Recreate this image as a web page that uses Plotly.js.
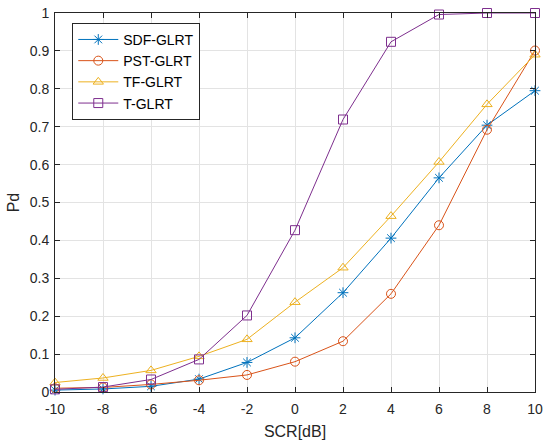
<!DOCTYPE html>
<html><head><meta charset="utf-8">
<script src="https://cdn.plot.ly/plotly-3.0.1.min.js"></script>
<style>html,body{margin:0;padding:0;background:#fff}#c{width:550px;height:444px}</style>
</head><body><div id="c"></div>
<script>
const scr = [-10,-8,-6,-4,-2,0,2,4,6,8,10];
const sdf = [0.005,0.008,0.015,0.034,0.078,0.143,0.262,0.406,0.565,0.704,0.795];
const pst = [0.010,0.012,0.020,0.031,0.045,0.080,0.134,0.259,0.440,0.692,0.901];
const tf  = [0.025,0.037,0.057,0.094,0.139,0.237,0.328,0.464,0.607,0.759,0.890];
const tg  = [0.007,0.013,0.033,0.086,0.202,0.427,0.719,0.924,0.996,1.0,1.0];
const names = ['SDF-GLRT','PST-GLRT','TF-GLRT','T-GLRT'];
const colors = ['#0072BD','#D95319','#EDB120','#7E2F8E'];
const symbols = ['asterisk-open','circle-open','triangle-up-open','square-open'];
const series = [sdf,pst,tf,tg];
const FONT = 'Liberation Sans, Arial, sans-serif';
const traces = series.map((y,i)=>({
  x: scr, y: y, name: names[i], type:'scatter', mode:'lines+markers',
  line:{color:colors[i], width:1},
  marker:{symbol:symbols[i], size:9, color:colors[i], line:{color:colors[i], width:1}},
  cliponaxis:false
}));
const axisCommon = {
  showline:true, linecolor:'#262626', linewidth:1, mirror:'ticks',
  ticks:'inside', ticklen:5, tickcolor:'#262626',
  showgrid:true, gridcolor:'#e3e3e3', gridwidth:1, zeroline:false,
  tickfont:{family:FONT, size:14, color:'#262626'}
};
const layout = {
  width:550, height:444,
  margin:{l:55, r:15, t:13, b:52},
  paper_bgcolor:'#fff', plot_bgcolor:'#fff',
  showlegend:true,
  xaxis:Object.assign({}, axisCommon, {range:[-10,10], tickvals:scr, ticktext:scr.map(String),
    ticklabelstandoff:4,
    title:{text:'SCR[dB]', font:{family:FONT, size:16, color:'#262626'}, standoff:10}}),
  yaxis:Object.assign({}, axisCommon, {range:[0,1], dtick:0.1, tick0:0,
    ticklabelstandoff:2,
    title:{text:'Pd', font:{family:FONT, size:16, color:'#262626'}, standoff:6}}),
  legend:{x:0.036, y:0.974, xanchor:'left', yanchor:'top',
    bgcolor:'#fff', bordercolor:'#262626', borderwidth:1,
    font:{family:FONT, size:14, color:'#000'},
    tracegroupgap:0, itemwidth:40}
};
Plotly.newPlot('c', traces, layout, {displayModeBar:false, staticPlot:true});
</script></body></html>
